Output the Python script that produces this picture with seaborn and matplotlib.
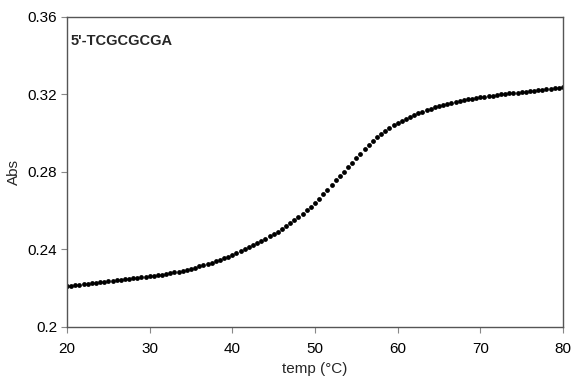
import numpy as np
import pandas as pd
import matplotlib
matplotlib.use("Agg")
import matplotlib.pyplot as plt
import seaborn as sns

# melting curve at 0.5 degC steps
temp = [20.0 + 0.5 * i for i in range(121)]
absorbance = [
    0.2210, 0.2212, 0.2215, 0.2217, 0.2220, 0.2222, 0.2225, 0.2227, 0.2230, 0.2232,
    0.2235, 0.2237, 0.2240, 0.2242, 0.2245, 0.2247, 0.2250, 0.2253, 0.2256, 0.2258,
    0.2261, 0.2264, 0.2267, 0.2270, 0.2274, 0.2277, 0.2281, 0.2285, 0.2290, 0.2295,
    0.2300, 0.2306, 0.2312, 0.2318, 0.2324, 0.2331, 0.2338, 0.2346, 0.2354, 0.2363,
    0.2372, 0.2381, 0.2391, 0.2401, 0.2411, 0.2421, 0.2432, 0.2443, 0.2455, 0.2467,
    0.2479, 0.2492, 0.2506, 0.2520, 0.2535, 0.2551, 0.2567, 0.2584, 0.2602, 0.2621,
    0.2641, 0.2662, 0.2685, 0.2709, 0.2733, 0.2757, 0.2780, 0.2802, 0.2825, 0.2848,
    0.2871, 0.2894, 0.2917, 0.2939, 0.2960, 0.2980, 0.2998, 0.3013, 0.3027, 0.3040,
    0.3052, 0.3064, 0.3075, 0.3085, 0.3094, 0.3103, 0.3111, 0.3119, 0.3126, 0.3133,
    0.3140, 0.3146, 0.3152, 0.3157, 0.3162, 0.3167, 0.3171, 0.3175, 0.3179, 0.3182,
    0.3185, 0.3188, 0.3191, 0.3194, 0.3197, 0.3200, 0.3202, 0.3205, 0.3208, 0.3210,
    0.3213, 0.3215, 0.3218, 0.3220, 0.3223, 0.3225, 0.3228, 0.3230, 0.3233, 0.3235,
    0.3238,
]
x_ticks = [20, 30, 40, 50, 60, 70, 80]
y_ticks = [0.2, 0.24, 0.28, 0.32, 0.36]
y_tick_labels = ["0.2", "0.24", "0.28", "0.32", "0.36"]
sample_label = "5'-TCGCGCGA"

df = pd.DataFrame({"temp": temp, "Abs": absorbance})

sns.set_theme(style="ticks")
plt.rcParams["font.family"] = ["Liberation Sans", "DejaVu Sans"]

fig = plt.figure(figsize=(5.73, 3.81), dpi=100)
ax = fig.add_axes([0.117, 0.142, 0.8655, 0.8135])

sns.scatterplot(data=df, x="temp", y="Abs", ax=ax, color="black", s=12,
                linewidth=0, legend=False)

ax.set_xlim(20, 80)
ax.set_ylim(0.2, 0.36)
ax.set_xticks(x_ticks)
ax.set_xticklabels([str(t) for t in x_ticks])
ax.set_yticks(y_ticks)
ax.set_yticklabels(y_tick_labels)
ax.tick_params(direction="out", length=4, width=0.8, color="#888888",
               labelsize=11, labelcolor="black")
ax.tick_params(axis="x", pad=7)
ax.tick_params(axis="y", pad=3)

for side in ["top", "right", "bottom", "left"]:
    ax.spines[side].set_visible(True)
    ax.spines[side].set_color("#555555")
    ax.spines[side].set_linewidth(1.0)

ax.set_xlabel("temp (°C)", fontsize=11, labelpad=4)
ax.set_ylabel("Abs", fontsize=11, labelpad=5)
ax.text(0.008, 0.945, sample_label, transform=ax.transAxes, fontsize=10.5,
        fontweight="bold", ha="left", va="top")

fig.savefig("out.png", dpi=100)
